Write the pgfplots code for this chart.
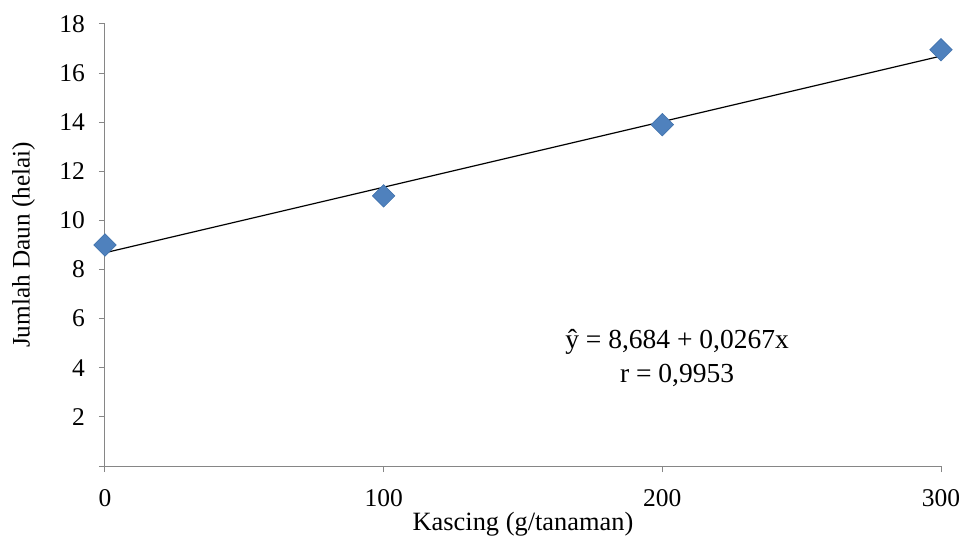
\documentclass[border=0pt]{standalone}
\usepackage{pgfplots}
\pgfplotsset{compat=1.18}
\usepackage{fontspec}
\setmainfont{Liberation Serif}
\definecolor{axgray}{HTML}{868686}
\definecolor{mblue}{HTML}{4F81BD}
\definecolor{mblueb}{HTML}{3F70AA}
\begin{document}
\fontsize{24}{28}\selectfont
\begin{tikzpicture}[x=1pt,y=1pt]
\path[use as bounding box] (-105pt,-70pt) rectangle (860pt,466pt);
\begin{axis}[
  at={(0,0)}, anchor=south west,
  scale only axis, width=836pt, height=442pt,
  xmin=0, xmax=300, ymin=0, ymax=18,
  axis x line*=bottom, axis y line*=left,
  axis line style={axgray, line width=1pt, -},
  xtick={0,100,200,300}, ytick={0,2,...,18},
  yticklabels={,2,4,6,8,10,12,14,16,18},
  tick style={axgray, line width=1pt},
  tick align=outside, major tick length=6pt,
  /pgf/number format/assume math mode=true,
  ticklabel style={font=\fontsize{25.5}{29}\selectfont, black},
  xticklabel style={yshift=-9pt},
  yticklabel style={xshift=-6pt},
  xlabel={Kascing (g/tanaman)}, ylabel={Jumlah Daun (helai)},
  xlabel style={font=\fontsize{26.4}{30}\selectfont, yshift=10pt},
  ylabel style={font=\fontsize{25.2}{29}\selectfont, yshift=8pt},
  clip=false,
]
\addplot[black, line width=1.2pt] coordinates {(0,8.684) (300,16.694)};
\addplot[only marks, mark=square*, mark size=8pt, mark options={rotate=45, fill=mblue, draw=mblueb, line width=0.5pt}]
  coordinates {(0,9) (100,11) (200,13.9) (300,16.95)};
\node[font=\fontsize{27.5}{32}\selectfont] at (axis cs:205.3,5.05) {ŷ = 8,684 + 0,0267x};
\node[font=\fontsize{27.5}{32}\selectfont] at (axis cs:205.3,3.7) {r = 0,9953};
\end{axis}
\end{tikzpicture}
\end{document}
